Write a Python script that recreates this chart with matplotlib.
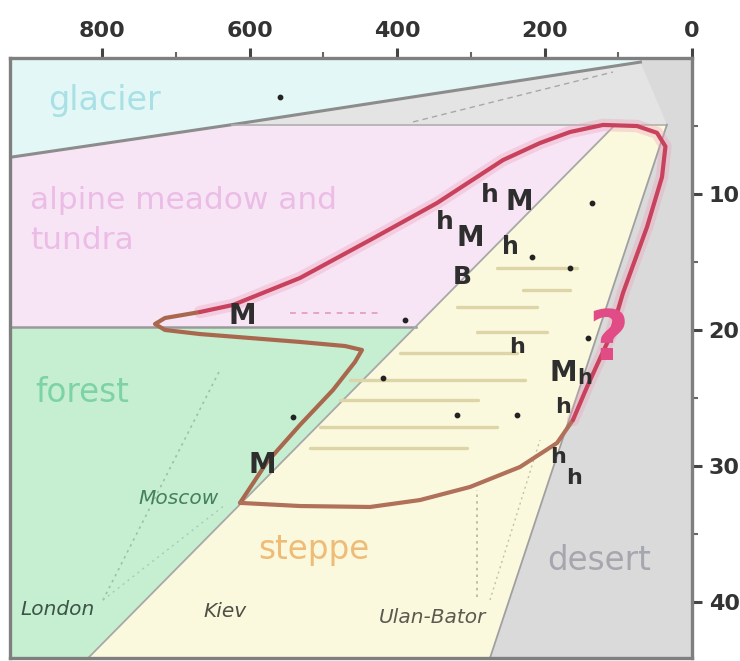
import matplotlib
matplotlib.use("Agg")
import matplotlib.pyplot as plt

# zone boundaries: precipitation (x, reversed) vs temperature index (y, downwards)
glacier_p = [925, 925, 624, 70, 70]
glacier_t = [0, 7.3, 4.9, 0.3, 0]

wedge_p = [624, 70, 34, 104]
wedge_t = [4.9, 0.3, 4.9, 4.9]

alpine_p = [925, 624, 104, 375, 925]
alpine_t = [7.3, 4.9, 4.9, 19.8, 19.8]

forest_p = [925, 375, 819, 925]
forest_t = [19.8, 19.8, 44.1, 44.1]

steppe_p = [104, 34, 274, 819]
steppe_t = [4.9, 4.9, 44.1, 44.1]

# outline of the sampled range (closed loop, starts at Moscow)
outline_p = [613.0, 576.4, 531.7, 486.9, 457.1, 447.6, 470.6, 531.7, 599.5, 667.3,
             714.8, 728.3, 714.8, 667.3, 622.5, 531.7, 436.7, 345.9, 256.3, 206.2,
             165.5, 120.7, 74.6, 47.5, 36.0, 40.7, 61.0, 93.6, 111.2, 120.7,
             142.4, 161.4, 183.1, 233.3, 301.1, 368.9, 436.7, 531.7, 613.0]
outline_t = [32.7, 29.7, 26.97, 24.4, 22.34, 21.46, 21.17, 20.87, 20.58, 20.29,
             19.99, 19.55, 19.11, 18.67, 18.15, 16.17, 13.38, 10.66, 7.5, 6.25,
             5.44, 4.92, 5.0, 5.5, 6.5, 8.75, 12.42, 17.27, 20.5, 21.6,
             24.18, 26.6, 28.3, 30.06, 31.53, 32.49, 33.0, 32.93, 32.7]

# hatching inside the steppe (temperature, precip from, precip to)
hatch_t = [15.44, 17.05, 18.3, 20.14, 21.68, 23.67, 25.14, 27.12, 28.67]
hatch_p0 = [264.5, 229.2, 318.7, 291.6, 396.0, 463.9, 477.4, 504.5, 518.1]
hatch_p1 = [156.0, 165.5, 210.2, 196.7, 237.4, 226.5, 290.2, 264.5, 305.2]

# sites
dot_p = [558.8, 135.6, 165.5, 217.0, 389.3, 419.1, 541.2, 318.7, 237.4, 141.1]
dot_t = [2.87, 10.66, 15.44, 14.63, 19.26, 23.52, 26.39, 26.24, 26.24, 20.58]

site_labels = ["M", "M", "h", "M", "h", "M", "h", "B", "h", "M", "h", "h", "h", "h"]
site_p = [610.3, 583.2, 274.0, 234.6, 335.0, 301.1, 246.8, 312.0, 237.4, 175.0, 145.0, 175.0, 181.7, 160.0]
site_t = [18.96, 29.9, 10.07, 10.58, 12.05, 13.23, 13.89, 16.1, 21.24, 23.15, 23.5, 25.65, 29.3, 30.87]
site_size = [20, 20, 18, 20, 18, 20, 17, 18, 16, 20, 15, 16, 16, 16]

cities = ["Moscow", "London", "Kiev", "Ulan-Bator"]
city_p = [697.0, 859.9, 633.4, 352.6]
city_t = [32.34, 40.57, 40.7, 41.1]

x_major = [800, 600, 400, 200, 0]
x_minor = [700, 500, 300, 100]
y_major = [10, 20, 30, 40]
y_minor = [5, 15, 25, 35]

fig = plt.figure(figsize=(7.4, 6.61), dpi=100)
ax = fig.add_axes([10 / 740, 3 / 661, 682 / 740, 600 / 661])
ax.set_xlim(925, 0)
ax.set_ylim(44.1, 0)
ax.set_facecolor("#dadada")

ax.fill(glacier_p, glacier_t, color="#e2f7f6", lw=0, zorder=1)
ax.fill(wedge_p, wedge_t, color="#e4e4e4", lw=0, zorder=1)
ax.fill(alpine_p, alpine_t, color="#f7e5f5", lw=0, zorder=1)
ax.fill(forest_p, forest_t, color="#c6efd2", lw=0, zorder=1)
ax.fill(steppe_p, steppe_t, color="#fbf9dd", lw=0, zorder=1)

# boundary lines
ax.plot(glacier_p[1:4], glacier_t[1:4], color="#8c8c8c", lw=2.2, zorder=2)
ax.plot([alpine_p[1], 34], [4.9, 4.9], color="#b0b0b0", lw=1.2, zorder=2)
ax.plot([925, 375], [19.8, 19.8], color="#9a9a9a", lw=1.8, zorder=2)
ax.plot([steppe_p[0], steppe_p[3]], [steppe_t[0], steppe_t[3]], color="#a8a8a8", lw=1.3, zorder=2)
ax.plot([steppe_p[1], steppe_p[2]], [steppe_t[1], steppe_t[2]], color="#a0a0a0", lw=1.3, zorder=2)
ax.plot([378.4, 107.1], [4.7, 1.03], color="#a8a8a8", lw=1.0, ls=(0, (4, 3)), zorder=2)

for t, p0, p1 in zip(hatch_t, hatch_p0, hatch_p1):
    ax.plot([p0, p1], [t, t], color="#ddd5a8", lw=2.4, zorder=2, solid_capstyle="round")

# dotted city links
ax.plot([798.9, 640.2], [39.84, 22.93], color="#9fbfa8", lw=1.2, ls=(0, (1.5, 2.5)), zorder=2)
ax.plot([798.9, 633.4], [39.84, 32.85], color="#a9c9b2", lw=1.0, ls=(0, (1.5, 3)), zorder=2)
ax.plot([545, 423], [18.74, 18.74], color="#e2a6c4", lw=1.4, ls=(0, (3, 3)), zorder=2)
ax.plot([291.6, 291.6], [39.6, 31.75], color="#b8b49a", lw=1.2, ls=(0, (1.5, 2.5)), zorder=2)
ax.plot([274.0, 206.2], [39.84, 28.08], color="#c0c0b0", lw=1.0, ls=(0, (1.5, 2.5)), zorder=2)

# outline: brownish lower part, crimson upper part
red = slice(13, 32)
ax.plot(outline_p[red], outline_t[red], color="#f0a0b8", lw=9, alpha=0.35,
        solid_joinstyle="round", solid_capstyle="round", zorder=3)
ax.plot(outline_p[:14], outline_t[:14], color="#a9684e", lw=3,
        solid_joinstyle="round", solid_capstyle="round", zorder=4)
ax.plot(outline_p[31:], outline_t[31:], color="#b0705a", lw=3,
        solid_joinstyle="round", solid_capstyle="round", zorder=4)
ax.plot(outline_p[red], outline_t[red], color="#c8415d", lw=3,
        solid_joinstyle="round", solid_capstyle="round", zorder=4)

ax.scatter(dot_p, dot_t, s=10, color="#222222", zorder=5)

for lab, p, t, fs in zip(site_labels, site_p, site_t, site_size):
    ax.text(p, t, lab, fontsize=fs, fontweight="bold", color="#2e2e2e",
            ha="center", va="center", zorder=6)

ax.text(113, 20.8, "?", fontsize=50, fontweight="bold", color="#e24c86",
        ha="center", va="center", zorder=6)

# zone names
ax.text(873.5, 3.09, "glacier", fontsize=24, color="#a9e0e6", ha="left", va="center", zorder=6)
ax.text(898, 10.44, "alpine meadow and", fontsize=22.5, color="#ebbde6", ha="left", va="center", zorder=6)
ax.text(898, 13.38, "tundra", fontsize=22.5, color="#ebbde6", ha="left", va="center", zorder=6)
ax.text(891, 24.55, "forest", fontsize=23.5, color="#7dd3a4", ha="left", va="center", zorder=6)
ax.text(588.6, 36.16, "steppe", fontsize=23.5, color="#efbc78", ha="left", va="center", zorder=6)
ax.text(196.7, 36.9, "desert", fontsize=23.5, color="#a6a6ae", ha="left", va="center", zorder=6)

city_col = ["#44805a", "#3c5446", "#4e5048", "#5a5a50"]
for name, p, t, c in zip(cities, city_p, city_t, city_col):
    ax.text(p, t, name, fontsize=14.5, style="italic", color=c, ha="center", va="center", zorder=6)

# axes: precipitation on top, temperature on the right
ax.xaxis.tick_top()
ax.yaxis.tick_right()
ax.set_xticks(x_major)
ax.set_xticks(x_minor, minor=True)
ax.set_yticks(y_major)
ax.set_yticks(y_minor, minor=True)
ax.tick_params(which="major", length=7, width=2.2, color="#444444", labelsize=16,
               labelcolor="#333333", pad=5)
ax.tick_params(which="minor", length=4, width=1.5, color="#666666")
for lab in ax.get_xticklabels() + ax.get_yticklabels():
    lab.set_fontweight("bold")
for sp in ax.spines.values():
    sp.set_color("#7f7f7f")
    sp.set_linewidth(2.4)

fig.savefig("out.png", dpi=100)
